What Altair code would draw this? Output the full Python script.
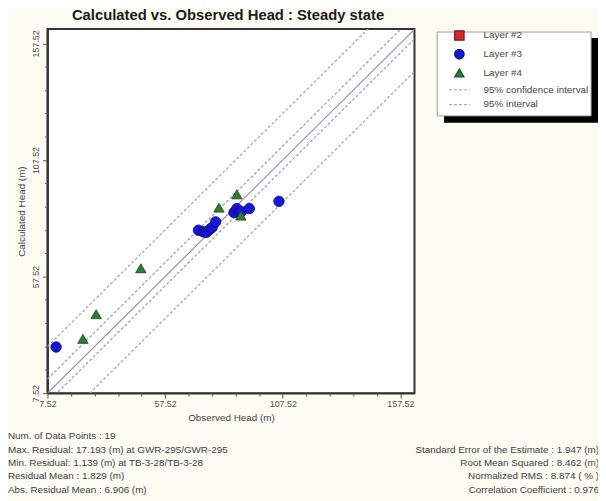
import altair as alt
import pandas as pd

# ---------------- data ----------------
layer3_observed   = [11.2, 71.7, 73.8, 75.0, 76.3, 77.5, 79.0, 86.8, 88.0, 88.9, 89.9, 93.3, 105.9]
layer3_calculated = [27.3, 77.4, 76.7, 76.5, 77.6, 78.6, 81.0, 85.0, 86.7, 85.0, 85.4, 86.7, 89.8]
layer4_observed   = [22.6, 28.2, 47.2, 80.4, 88.0, 89.7]
layer4_calculated = [30.8, 41.4, 61.1, 87.1, 92.8, 83.7]

series_names = ["Layer #2", "Layer #3", "Layer #4", "95% confidence interval", "95% interval"]
interval_offsets = {"95% confidence interval": [6.0, -4.0], "95% interval": [20.0, -18.0]}

x_domain = [7.52, 163.5]
y_domain = [7.52, 163.7]
major_ticks = [7.52, 57.52, 107.52, 157.52]
minor_ticks = [17.52, 27.52, 37.52, 47.52, 67.52, 77.52, 87.52, 97.52,
               117.52, 127.52, 137.52, 147.52]

stats_left = [
    "Num. of Data Points : 19",
    "Max. Residual: 17.193 (m) at GWR-295/GWR-295",
    "Min. Residual: 1.139 (m) at TB-3-28/TB-3-28",
    "Residual Mean : 1.829 (m)",
    "Abs. Residual Mean : 6.906 (m)",
]
stats_right = [
    "Standard Error of the Estimate : 1.947 (m)",
    "Root Mean Squared : 8.462 (m)",
    "Normalized RMS : 8.874 ( % )",
    "Correlation Coefficient : 0.976",
]

# ---------------- styles ----------------
FONT = "Liberation Sans"
fill_range = ["#d42a2a", "#1616d6", "#2f7d34", "transparent", "transparent"]
stroke_range = ["#7a1414", "#0b0b78", "#1c4f20", "#a0a0bc", "#a8a8a8"]
shape_range = ["square", "circle", "triangle-up", "M-2.2,0L2.2,0", "M-2.2,0L2.2,0"]
dash_range = [[1, 0], [1, 0], [1, 0], [3, 2], [3, 2]]

# ---------------- tables ----------------
points = pd.DataFrame({
    "obs": layer3_observed + layer4_observed,
    "calc": layer3_calculated + layer4_calculated,
    "series": ["Layer #3"] * len(layer3_observed) + ["Layer #4"] * len(layer4_observed),
    "order": [1] * len(layer3_observed) + [2] * len(layer4_observed),
})

rows = []
for name, offs in interval_offsets.items():
    for k, off in enumerate(offs):
        for xv in x_domain:
            rows.append({"series": name, "line": f"{name}-{k}", "obs": xv, "calc": xv + off})
intervals = pd.DataFrame(rows)
one_to_one = pd.DataFrame({"obs": [x_domain[0], y_domain[1]], "calc": [x_domain[0], y_domain[1]]})

x_scale = alt.Scale(domain=x_domain, nice=False, zero=False)
y_scale = alt.Scale(domain=y_domain, nice=False, zero=False)

common_axis = dict(grid=False, labelFlush=False, labelOverlap=False, labelPadding=2)

x_major = alt.X("obs:Q", scale=x_scale,
                axis=alt.Axis(title="Observed Head (m)", values=major_ticks, format=".2f",
                              tickSize=5, titlePadding=4, orient="bottom", **common_axis))
y_major = alt.Y("calc:Q", scale=y_scale,
                axis=alt.Axis(title="Calculated Head (m)", values=major_ticks, format=".2f",
                              tickSize=5, labelAngle=-90, labelAlign="center",
                              labelBaseline="bottom", titlePadding=5, orient="left",
                              **common_axis))
x_minor = alt.X("obs:Q", scale=x_scale,
                axis=alt.Axis(title=None, values=minor_ticks, labels=False, domain=False,
                              tickSize=3, orient="bottom", grid=False))
y_minor = alt.Y("calc:Q", scale=y_scale,
                axis=alt.Axis(title=None, values=minor_ticks, labels=False, domain=False,
                              tickSize=3, orient="left", grid=False))

legend = alt.Legend(title=None, orient="none", legendX=410, legendY=-1, padding=2,
                    symbolSize=90, symbolStrokeWidth=1.2, labelOffset=19,
                    labelFont=FONT, labelFontSize=10, labelColor="#444444",
                    rowPadding=4, labelLimit=300)

fill_scale = alt.Scale(domain=series_names, range=fill_range)
stroke_scale = alt.Scale(domain=series_names, range=stroke_range)
shape_scale = alt.Scale(domain=series_names, range=shape_range)
dash_scale = alt.Scale(domain=series_names, range=dash_range)

frame_src = pd.DataFrame({"k": [0]})
shadow = alt.Chart(frame_src).mark_rect(fill="#000000").encode(
    x=alt.value(402), x2=alt.value(558), y=alt.value(9), y2=alt.value(95))
frame = alt.Chart(frame_src).mark_rect(fill="#ffffff", stroke="#9a9a9a", strokeWidth=1).encode(
    x=alt.value(395), x2=alt.value(551), y=alt.value(3), y2=alt.value(88))

diag = alt.Chart(one_to_one).mark_line(clip=True, color="#9a88b8", strokeWidth=1.2).encode(
    x=x_major, y=y_major)

lines = alt.Chart(intervals).mark_line(clip=True, strokeWidth=1.3).encode(
    x=x_minor, y=y_minor, detail="line:N",
    stroke=alt.Stroke("series:N", scale=stroke_scale, legend=legend),
    strokeDash=alt.StrokeDash("series:N", scale=dash_scale, legend=legend),
)

pts = alt.Chart(points).mark_point(filled=True, size=110, opacity=1, strokeWidth=1).encode(
    x=alt.X("obs:Q", scale=x_scale, axis=None),
    y=alt.Y("calc:Q", scale=y_scale, axis=None),
    fill=alt.Fill("series:N", scale=fill_scale, legend=legend),
    stroke=alt.Stroke("series:N", scale=stroke_scale, legend=legend),
    shape=alt.Shape("series:N", scale=shape_scale, legend=legend),
    strokeDash=alt.StrokeDash("series:N", scale=dash_scale, legend=legend),
    order="order:Q",
)

texts = []
for i, s in enumerate(stats_left):
    texts.append(alt.Chart(pd.DataFrame({"t": [s]})).mark_text(
        align="left", baseline="middle", font=FONT, fontSize=10, color="#404040").encode(
        text="t:N", x=alt.value(-40), y=alt.value(413 + 13.5 * i)))
for i, s in enumerate(stats_right):
    texts.append(alt.Chart(pd.DataFrame({"t": [s]})).mark_text(
        align="right", baseline="middle", font=FONT, fontSize=10, color="#404040").encode(
        text="t:N", x=alt.value(559), y=alt.value(426.5 + 13.5 * i)))

chart = alt.layer(shadow, frame, diag, lines, pts, *texts).resolve_axis(
    x="independent", y="independent"
).properties(
    width=372, height=369,
    autosize=alt.AutoSizeParams(type="none"),
    padding={"left": 40, "top": 18, "right": 186, "bottom": 106},
    title=alt.TitleParams("Calculated vs. Observed Head : Steady state", anchor="middle",
                          font=FONT, fontSize=15, fontWeight="bold", color="#1a1a1a",
                          offset=6, baseline="alphabetic", dx=-3, dy=13, frame="group"),
).configure(
    background="#fdfcf3",
).configure_view(
    fill="#ffffff", stroke="#333333", strokeWidth=2,
).configure_axis(
    labelFont=FONT, labelFontSize=9, labelColor="#505050",
    titleFont=FONT, titleFontSize=10, titleFontWeight="normal", titleColor="#444444",
    domainColor="#333333", domainWidth=2, tickColor="#555555", tickWidth=1,
)

chart.save("out.html", embed_options={"renderer": "svg", "actions": False})
